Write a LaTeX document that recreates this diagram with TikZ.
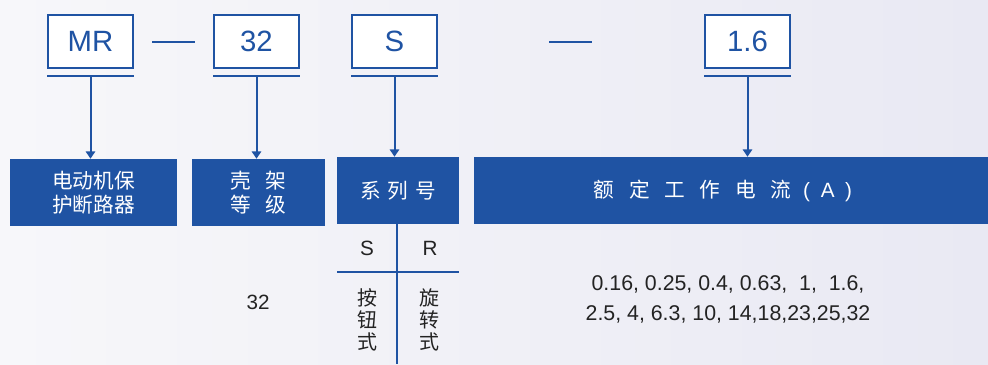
\documentclass[tikz,border=0pt]{standalone}
\usepackage{fontspec}
\setmainfont{Liberation Sans}
\newfontfamily\cjk{Noto Sans CJK SC}
\usetikzlibrary{arrows.meta}

\definecolor{mrblue}{RGB}{31,83,163}
\definecolor{ink}{RGB}{35,35,35}
\definecolor{bgleft}{RGB}{247,247,250}
\definecolor{bgright}{RGB}{233,233,243}

\tikzset{
  codebox/.style={draw=mrblue, line width=1.5pt, fill=white, inner sep=0pt,
    minimum width=63.75pt, minimum height=40pt, text=mrblue,
    font=\fontsize{22}{22}\selectfont},
  bluebox/.style={fill=mrblue, inner sep=0pt, minimum height=50.25pt,
    text=white, align=center, font=\fontsize{15.5}{18}\selectfont\cjk},
  bline/.style={draw=mrblue, line width=1.5pt},
  downarr/.style={bline, -{Triangle[width=7pt,length=5.5pt]}},
  plain/.style={text=ink, inner sep=0pt, font=\fontsize{15.5}{16.5}\selectfont}
}

\begin{document}
\begin{tikzpicture}[x=0.75pt,y=0.75pt,yscale=-1]
\useasboundingbox (0,0) rectangle (988,364);
\shade[left color=bgleft, right color=bgright] (0,0) rectangle (988,364);

% code boxes
\node[codebox] (mr) at (90.5,41.5) {MR};
\node[codebox] (fr) at (256.5,41.5) {32};
\node[codebox] (sr) at (394.5,41.5) {S};
\node[codebox] (cur) at (747.5,41.5) {1.6};

% dashes between codes
\draw[bline, shorten <=13.5pt, shorten >=13.5pt] (mr) -- (fr);
\draw[bline, shorten <=83.25pt, shorten >=84pt] (sr) -- (cur);

% underlines
\foreach \b in {mr,fr,sr,cur}{
  \coordinate (\b ul) at ([yshift=5.25pt]\b.south);
  \draw[bline] ([yshift=5.25pt]\b.south west) -- ([yshift=5.25pt]\b.south east);
}

% label boxes
\node[bluebox, minimum width=125.25pt] (lmr) at (93.5,192.5) {电动机保\\护断路器};
\node[bluebox, minimum width=99.75pt] (lfr) at (258.5,192.5) {壳\hspace{11pt}架\\等\hspace{11pt}级};
\node[bluebox, minimum width=91.5pt] (lsr) at (398,190.5) {系\hspace{5pt}列\hspace{5pt}号};
\node[bluebox, minimum width=385.5pt] (lcur) at (731,190.5)
  {额\hspace{11pt}定\hspace{11pt}工\hspace{11pt}作\hspace{11pt}电\hspace{11pt}流\hspace{9pt}{\fontspec{Liberation Sans}(\hspace{8pt}A\hspace{8pt})}\hspace{12pt}};

% arrows
\draw[downarr] (mrul) -- (mrul |- lmr.north);
\draw[downarr] (frul) -- (frul |- lfr.north);
\draw[downarr] (srul) -- (srul |- lsr.north);
\draw[downarr] (curul) -- (curul |- lcur.north);

% series table
\coordinate (tbot) at (397,364);
\coordinate (tl) at (337,272);
\coordinate (tr) at (459,272);
\draw[bline] (lsr.south -| tbot) -- (tbot);
\draw[bline] (tl) -- (tr);
\node[plain] (ts) at (367,248) {S};
\node[plain] (tr2) at (430,248) {R};
\node[plain, align=center, font=\fontsize{15}{16.5}\selectfont\cjk] (tpush) at (367,320) {按\\钮\\式};
\node[plain, align=center, font=\fontsize{15}{16.5}\selectfont\cjk] (trot) at (429,320) {旋\\转\\式};

% values
\node[plain] (vfr) at (258,302) {32};
\node[plain, align=center, font=\fontsize{16}{22.5}\selectfont] (vcur) at (728,299)
  {0.16, 0.25, 0.4, 0.63,\ \ 1,\ \ 1.6,\\2.5, 4, 6.3, 10, 14,18,23,25,32};
\end{tikzpicture}
\end{document}
